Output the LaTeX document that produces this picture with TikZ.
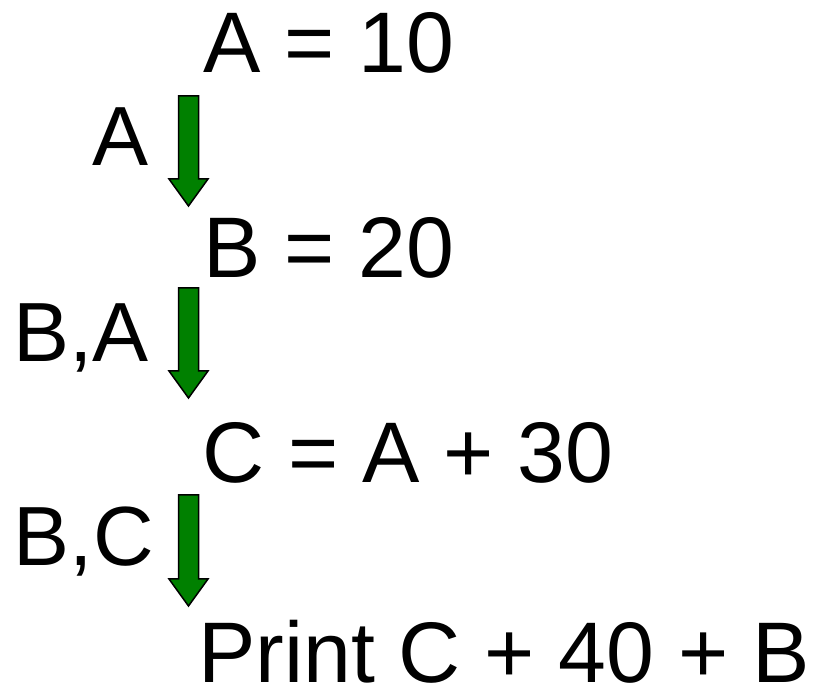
\documentclass[tikz,border=0pt]{standalone}
\usepackage{fontspec}
\setmainfont{Liberation Sans}
\usetikzlibrary{calc}

\tikzset{
  stmt/.style={anchor=base west, inner sep=0pt, font=\fontsize{86}{100}\selectfont},
  live/.style={anchor=base east, inner sep=0pt, font=\fontsize{84}{98}\selectfont},
  flow/.style={draw=black, line width=1.5pt, fill=green!50!black, line join=miter}
}
% block arrow from top point #1 down to tip #2
\newcommand{\blockarrow}[2]{%
  \draw[flow] ($(#1)+(-10,0)$) -- ($(#1)+(10,0)$) -- ($(#2)+(10,27)$)
    -- ($(#2)+(19.5,27)$) -- (#2) -- ($(#2)+(-19.5,27)$)
    -- ($(#2)+(-10,27)$) -- cycle;}

\begin{document}
\begin{tikzpicture}[x=1pt, y=1pt]
    \useasboundingbox (0,0) rectangle (815,-692);

    % Statements
    \node[stmt] (s1) at (203,-73) {A = 10};
    \node[stmt] (s2) at (203,-278) {B = 20};
    \node[stmt] (s3) at (202,-483) {C = A + 30};
    \node[stmt] (s4) at (198,-683) {Print C + 40 + B};

    % Live variables
    \node[live] (l1) at (149,-166) {A};
    \node[live] (l2) at (149,-362) {B,A};
    \node[live] (l3) at (154,-566) {B,C};

    % Arrows
    \coordinate (a1) at (188.5,-96);
    \coordinate (b1) at (188.5,-206);
    \coordinate (a2) at (188.5,-288);
    \coordinate (b2) at (188.5,-398);
    \coordinate (a3) at (188.5,-495);
    \coordinate (b3) at (188.5,-606);
    \blockarrow{a1}{b1}
    \blockarrow{a2}{b2}
    \blockarrow{a3}{b3}
\end{tikzpicture}
\end{document}
